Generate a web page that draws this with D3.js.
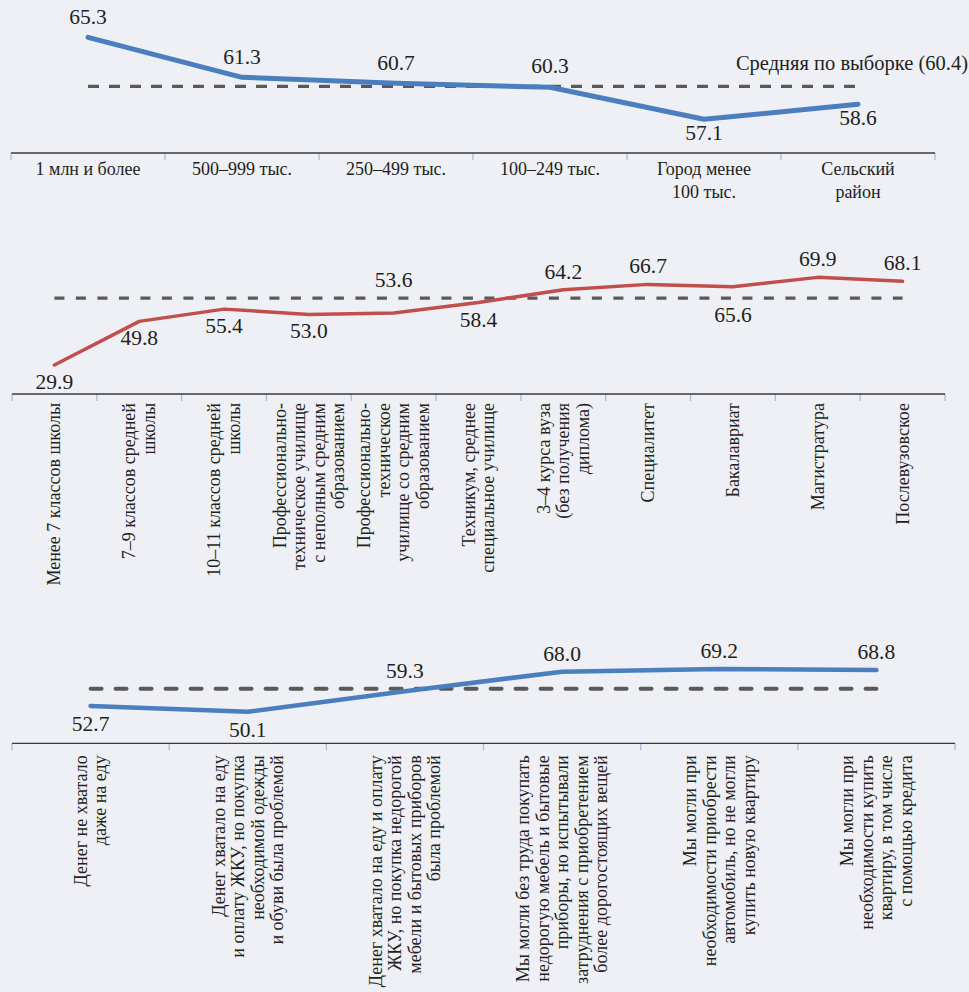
<!DOCTYPE html>
<html>
<head>
<meta charset="utf-8">
<script src="https://cdn.jsdelivr.net/npm/d3@7"></script>
<style>
  html, body { margin: 0; padding: 0; background: #eef0f5; }
  svg { display: block; }
</style>
</head>
<body>
<svg id="chart" width="969" height="992"></svg>
<script>
// --- data ---
var average = 60.4;
var averageLabel = "Средняя по выборке (60.4)";

var settlementCats = ["1 млн и более", "500–999 тыс.", "250–499 тыс.", "100–249 тыс.",
  "Город менее\n100 тыс.", "Сельский\nрайон"];
var settlementValues = [65.3, 61.3, 60.7, 60.3, 57.1, 58.6];
var settlementSides = ["up", "up", "up", "up", "down", "down"];

var educationCats = ["Менее 7 классов школы", "7–9 классов средней\nшколы",
  "10–11 классов средней\nшколы",
  "Профессионально-\nтехническое училище\nс неполным средним\nобразованием",
  "Профессионально-\nтехническое\nучилище со средним\nобразованием",
  "Техникум, среднее\nспециальное училище", "3–4 курса вуза\n(без получения\nдиплома)",
  "Специалитет", "Бакалавриат", "Магистратура", "Послевузовское"];
var educationValues = [29.9, 49.8, 55.4, 53.0, 53.6, 58.4, 64.2, 66.7, 65.6, 69.9, 68.1];
var educationSides = ["down", "down", "down", "down", "up", "down", "up", "up", "down", "up", "up"];

var incomeCats = ["Денег не хватало\nдаже на еду",
  "Денег хватало на еду\nи оплату ЖКУ, но покупка\nнеобходимой одежды\nи обуви была проблемой",
  "Денег хватало на еду и оплату\nЖКУ, но покупка недорогой\nмебели и бытовых приборов\nбыла проблемой",
  "Мы могли без труда покупать\nнедорогую мебель и бытовые\nприборы, но испытывали\nзатруднения с приобретением\nболее дорогостоящих вещей",
  "Мы могли при\nнеобходимости приобрести\nавтомобиль, но не могли\nкупить новую квартиру",
  "Мы могли при\nнеобходимости купить\nквартиру, в том числе\nс помощью кредита"];
var incomeValues = [52.7, 50.1, 59.3, 68.0, 69.2, 68.8];
var incomeSides = ["down", "down", "up", "up", "up", "up"];

// --- layout ---
var svg = d3.select("#chart");
var textColor = "#231f20";
var font = "Liberation Serif";

var panels = [
  { cats: settlementCats, values: settlementValues, sides: settlementSides,
    x0: 11, x1: 935, axisY: 153, domain: [54, 66], range: [150.3, 30.3],
    color: "#4a7ebf", width: 5, dash: "11,10", dashWidth: 3.2, cap: "butt",
    gapUp: 13, gapDown: 21, rotate: false, showAvgLabel: true },
  { cats: educationCats, values: educationValues, sides: educationSides,
    x0: 12, x1: 945, axisY: 394, domain: [25, 75], range: [375.7, 266.2],
    color: "#c24e4c", width: 3.5, dash: "10,11.5", dashWidth: 3.2, cap: "butt",
    gapUp: 11, gapDown: 24, rotate: true, labelTop: 9 },
  { cats: incomeCats, values: incomeValues, sides: incomeSides,
    x0: 12, x1: 955, axisY: 743.3, domain: [45, 75], range: [723.2, 656.0],
    color: "#4a7ebf", width: 4.5, dash: "11,14", dashWidth: 4, cap: "round",
    gapUp: 11, gapDown: 25, rotate: true, labelTop: 12 }
];

panels.forEach(function(p) {
  var g = svg.append("g");

  var x = d3.scaleBand().domain(d3.range(p.cats.length)).range([p.x0, p.x1]);
  var y = d3.scaleLinear().domain(p.domain).range(p.range);
  var cx = function(i) { return x(i) + x.bandwidth() / 2; };
  var avgY = y(average);

  // axis line and tick marks between categories
  var ticks = d3.range(p.cats.length).map(function(i) { return x(i); }).concat([p.x1]);
  g.selectAll("line.tick")
    .data(ticks)
    .enter().append("line")
    .attr("x1", function(d) { return d; })
    .attr("x2", function(d) { return d; })
    .attr("y1", p.axisY)
    .attr("y2", p.axisY + 7)
    .attr("stroke", "#a9bcdc")
    .attr("stroke-width", 1.3);

  g.append("line")
    .attr("x1", p.x0).attr("x2", p.x1)
    .attr("y1", p.axisY).attr("y2", p.axisY)
    .attr("stroke", "#3b3b3b")
    .attr("stroke-width", 1.3);

  // average dashed line
  g.append("line")
    .attr("x1", cx(0)).attr("x2", cx(p.cats.length - 1))
    .attr("y1", avgY).attr("y2", avgY)
    .attr("stroke", "#595959")
    .attr("stroke-width", p.dashWidth)
    .attr("stroke-linecap", p.cap)
    .attr("stroke-dasharray", p.dash);

  // the series line
  var line = d3.line()
    .x(function(d, i) { return cx(i); })
    .y(function(d) { return y(d); });

  g.append("path")
    .datum(p.values)
    .attr("d", line)
    .attr("fill", "none")
    .attr("stroke", p.color)
    .attr("stroke-width", p.width)
    .attr("stroke-linecap", "round")
    .attr("stroke-linejoin", "round");

  // value labels
  g.selectAll("text.value")
    .data(p.values)
    .enter().append("text")
    .attr("class", "value")
    .attr("x", function(d, i) { return cx(i); })
    .attr("y", function(d, i) {
      var py = y(d);
      return p.sides[i] === "up" ? Math.min(py, avgY) - p.gapUp : Math.max(py, avgY) + p.gapDown;
    })
    .attr("text-anchor", "middle")
    .attr("font-family", font)
    .attr("font-size", 21.5)
    .attr("fill", textColor)
    .text(function(d) { return d.toFixed(1); });

  if (p.showAvgLabel) {
    g.append("text")
      .attr("x", 968)
      .attr("y", 70)
      .attr("text-anchor", "end")
      .attr("font-family", font)
      .attr("font-size", 20.5)
      .attr("fill", textColor)
      .text(averageLabel);
  }

  // category labels
  var cat = g.selectAll("g.cat")
    .data(p.cats)
    .enter().append("g")
    .attr("class", "cat");

  if (!p.rotate) {
    cat.attr("transform", function(d, i) { return "translate(" + cx(i) + "," + (p.axisY + 22) + ")"; });
    cat.each(function(d) {
      var lines = d.split("\n");
      d3.select(this).selectAll("text")
        .data(lines)
        .enter().append("text")
        .attr("x", 0)
        .attr("y", function(l, j) { return j * 22.5; })
        .attr("text-anchor", "middle")
        .attr("font-family", font)
        .attr("font-size", 18)
        .attr("fill", textColor)
        .text(function(l) { return l; });
    });
  } else {
    cat.attr("transform", function(d, i) {
      return "translate(" + cx(i) + "," + (p.axisY + p.labelTop) + ") rotate(-90)";
    });
    cat.each(function(d) {
      var lines = d.split("\n");
      var lh = 19.5;
      d3.select(this).selectAll("text")
        .data(lines)
        .enter().append("text")
        .attr("x", 0)
        .attr("y", function(l, j) { return (j - (lines.length - 1) / 2) * lh + 6; })
        .attr("text-anchor", "end")
        .attr("font-family", font)
        .attr("font-size", 18)
        .attr("fill", textColor)
        .text(function(l) { return l; });
    });
  }
});
</script>
</body>
</html>
